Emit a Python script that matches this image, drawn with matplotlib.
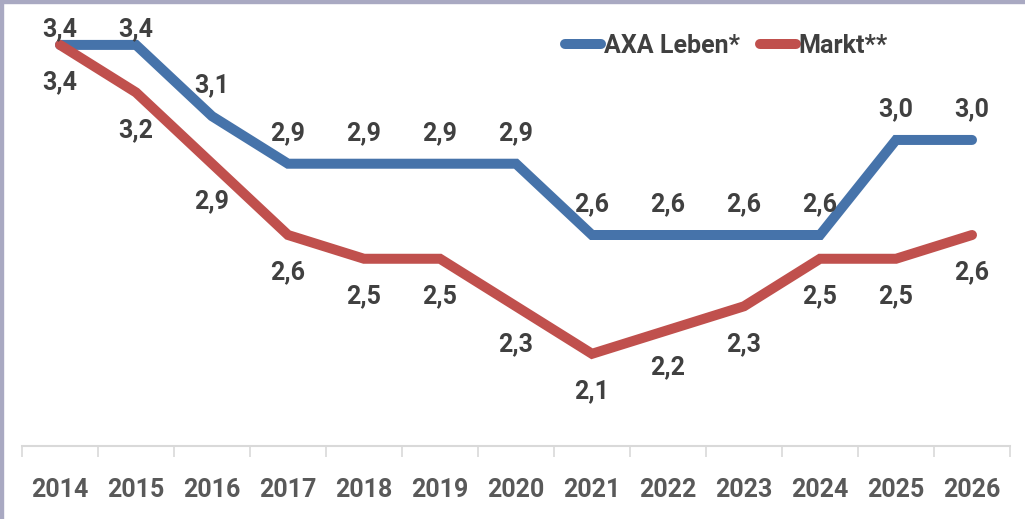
import numpy as np
import matplotlib
matplotlib.use("Agg")
import matplotlib.pyplot as plt
from matplotlib.patches import Rectangle

plt.rcParams['font.family'] = ['Roboto', 'DejaVu Sans']

# data
years = ["2014", "2015", "2016", "2017", "2018", "2019", "2020",
         "2021", "2022", "2023", "2024", "2025", "2026"]
axa = [3.4, 3.4, 3.1, 2.9, 2.9, 2.9, 2.9, 2.6, 2.6, 2.6, 2.6, 3.0, 3.0]
markt = [3.4, 3.2, 2.9, 2.6, 2.5, 2.5, 2.3, 2.1, 2.2, 2.3, 2.5, 2.5, 2.6]

BLUE = "#4673AA"
RED = "#C0504D"
LABEL = "#404040"
FS = 18

fig = plt.figure(figsize=(10.25, 5.19), dpi=100)
ax = fig.add_axes([22 / 1025, 73 / 519, 988 / 1025, 446 / 519])

x = np.arange(len(years))
ax.plot(x, axa, color=BLUE, lw=7.2, solid_capstyle="round",
        solid_joinstyle="miter", label="AXA Leben*", zorder=3)
ax.plot(x, markt, color=RED, lw=7.2, solid_capstyle="round",
        solid_joinstyle="miter", label="Markt**", zorder=3)

# data labels
for i, v in enumerate(axa):
    dy = 11 if i < 2 else 22
    ax.annotate(f"{v:.1f}".replace(".", ","), (i, v), xytext=(0, dy),
                textcoords="offset points", ha="center", va="center",
                fontsize=FS, fontweight="bold", color=LABEL)
for i, v in enumerate(markt):
    ax.annotate(f"{v:.1f}".replace(".", ","), (i, v), xytext=(0, -27),
                textcoords="offset points", ha="center", va="center",
                fontsize=FS, fontweight="bold", color=LABEL)

ax.set_xlim(-0.5, len(years) - 0.5)
ax.set_ylim(1.712, 3.589)
ax.set_xticks(x)
ax.set_xticklabels(years, fontsize=FS, fontweight="bold", color="#595959")
ax.set_xticks(np.arange(-0.5, len(years), 1), minor=True)
ax.tick_params(axis="x", which="major", length=0, pad=23)
ax.tick_params(axis="x", which="minor", length=8, width=1.2, color="#D9D9D9")
ax.set_yticks([])
for s in ["top", "right", "left"]:
    ax.spines[s].set_visible(False)
ax.spines["bottom"].set_color("#D9D9D9")
ax.spines["bottom"].set_linewidth(1.5)

leg = ax.legend(loc="upper left", bbox_to_anchor=(0.527, 0.975), ncol=2,
                frameon=False, handlelength=1.45, handletextpad=0.1,
                columnspacing=0.8, prop={"size": FS, "weight": "bold"})
for t in leg.get_texts():
    t.set_color(LABEL)

# thin frame on top and left edge
fig.patches.append(Rectangle((0, 1 - 3 / 519), 1, 3 / 519, transform=fig.transFigure,
                             color="#A9A9C2", zorder=10))
fig.patches.append(Rectangle((0, 0), 3 / 1025, 1, transform=fig.transFigure,
                             color="#A9A9C2", zorder=10))

fig.savefig("out.png", dpi=100)
